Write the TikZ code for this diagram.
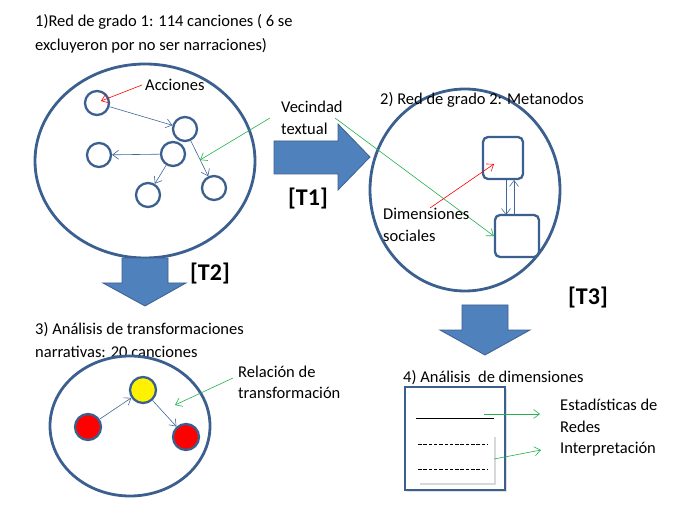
\documentclass[tikz,border=0pt]{standalone}
\usepackage{fontspec}
\setmainfont{Carlito}
\usetikzlibrary{arrows.meta,shadows}
\definecolor{dk}{HTML}{3B5F8E}
\definecolor{fillb}{HTML}{4F81BD}
\definecolor{gr}{HTML}{22B14C}
\begin{document}
\begin{tikzpicture}[x=1pt,y=-1pt,
  big/.style={draw=dk,line width=2.8pt},
  sm/.style={draw=dk,line width=2.3pt,circle,minimum size=24pt,inner sep=0},
  ba/.style={draw=fillb!80!black,->,>={Straight Barb[length=6pt,width=9pt]},line width=0.6pt},
  ga/.style={draw=gr,line width=0.6pt,->,>={Straight Barb[length=6pt,width=9pt]}},
  ra/.style={draw=red,line width=0.6pt,->,>={Straight Barb[length=6pt,width=9pt]}},
  txt/.style={font=\fontsize{16.5pt}{19pt}\selectfont,anchor=west,inner sep=0,align=left},
  blk/.style={fill=fillb,draw=dk,line width=0.8pt},
  lb/.style={font=\bfseries\fontsize{24pt}{26pt}\selectfont,inner sep=0},
  dl/.style={black,dash pattern=on 3.5pt off 1.8pt,line width=0.6pt}]
\useasboundingbox (0,0) rectangle (696,529);
% titles
\node[txt] (t1) at (35,22) {1)Red de grado 1: 114 canciones ( 6 se};
\node[txt] (t1b) at (35,46) {excluyeron por no ser narraciones)};
% ellipse 1
\draw[big] (145,161) ellipse [x radius=110,y radius=97];
\node[sm] (A) at (97,103) {};
\node[sm] (B) at (185,129) {};
\node[sm] (C) at (99,155) {};
\node[sm] (D) at (173,154) {};
\node[sm] (E) at (148,195) {};
\node[sm] (F) at (214,188) {};
\draw[ba] (A) -- (B);
\draw[ba] (D) -- (C);
\draw[ba] (D) -- (E);
\draw[ba] (B) -- (F);
\node[txt] (acc) at (145,85) {Acciones};
\draw[ra] ([xshift=-3pt]acc.west) -- (101,101);
\node[txt] (vec) at (281,107) {Vecindad};
\node[txt] (vec2) at (281,129) {textual};
\draw[ga] (270,118) -- (200,160);
% T1 arrow
\draw[blk] (274,141) -- (338,141) -- (338,124) -- (370,157) -- (338,190) -- (338,174) -- (274,174) -- cycle;
\node[lb] (T1) at (308,199) {[T1]};
% ellipse 2
\draw[big] (465,190) ellipse [x radius=95,y radius=101];
\node[txt] (t2) at (380,100) {2) Red de grado 2: Metanodos};
\node[draw=dk,line width=2.3pt,rounded corners=5pt,minimum width=40pt,minimum height=42pt] (S1) at (503,158) {};
\node[draw=dk,line width=2.3pt,rounded corners=5pt,minimum width=44pt,minimum height=42pt] (S2) at (517,236) {};
\draw[ba] (506,180) -- (506,215);
\draw[ba] (514,215) -- (514,180);
\draw[ga] (335,118) -- (S2.west);
\node[txt] (dim) at (383,214) {Dimensiones};
\node[txt] (dim2) at (383,236) {sociales};
\draw[ra] (430,208) -- (494,164);
% T2 arrow
\draw[blk] (122,258) -- (168,258) -- (168,283) -- (186,283) -- (145,306) -- (103,283) -- (122,283) -- cycle;
\node[lb] (T2) at (210,274) {[T2]};
% T3 arrow
\node[lb] (T3) at (588,298) {[T3]};
\draw[blk] (462,305) -- (508,305) -- (508,330) -- (530,330) -- (485,355) -- (440,330) -- (462,330) -- cycle;
% section 3
\node[txt] (t3) at (35,330) {3) Análisis de transformaciones};
\node[txt] (t3b) at (35,352) {narrativas: 20 canciones};
\draw[big] (130,426) ellipse [x radius=80,y radius=70];
\node[sm,fill=yellow,minimum size=26pt] (Y) at (143,390) {};
\node[sm,fill=red,minimum size=26pt] (R1) at (88,427) {};
\node[sm,fill=red,minimum size=26pt] (R2) at (186,437) {};
\draw[ba] (R1) -- (Y);
\draw[ba] (Y) -- (R2);
\node[txt] (rel) at (238,372) {Relación de};
\node[txt] (rel2) at (238,393) {transformación};
\draw[ga] (233,378) -- (175,405);
% section 4
\node[txt] (t4) at (403,378) {4) Análisis\ \ de dimensiones};
\node[draw=dk,fill=white,line width=2.6pt,minimum width=100pt,minimum height=103pt,drop shadow={opacity=0.25}] (BX) at (455,438.5) {};
\draw[black] (416,418) -- (494,418);
\node[fill=white,drop shadow={opacity=0.3,shadow xshift=2pt,shadow yshift=-2pt},minimum width=76pt,minimum height=48pt,inner sep=0] (IB) at (456,459) {};
\coordinate (d1a) at (418,444); \coordinate (d1b) at (488,444);
\coordinate (d2a) at (418,469); \coordinate (d2b) at (488,469);
\draw[dl] (d1a) -- (d1b);
\draw[dl] (d2a) -- (d2b);
\node[txt] (es) at (560,405) {Estadísticas de};
\node[txt] (es2) at (560,427) {Redes};
\node[txt] (int) at (560,449) {Interpretación};
\draw[ga] (484,414) -- (540,414);
\draw[ga] (IB.east) -- (541,450);
\end{tikzpicture}
\end{document}
